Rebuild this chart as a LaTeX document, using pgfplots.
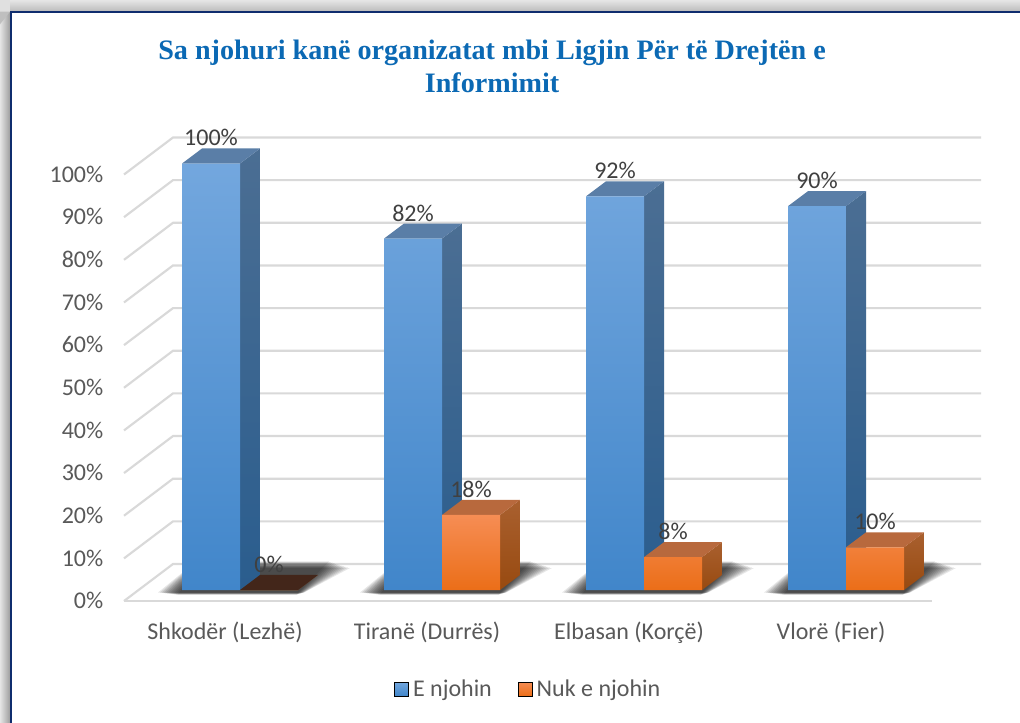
\documentclass[border=0pt]{standalone}
\usepackage{fontspec}
\usepackage{pgfplots}
\pgfplotsset{compat=1.18}
\setmainfont{Carlito}
\newfontfamily\titlefont{Liberation Serif}[BoldFont={Liberation Serif Bold}]
\definecolor{gridc}{HTML}{D9D9D9}
\definecolor{tickc}{HTML}{595959}
\definecolor{labc}{HTML}{404040}
\definecolor{titlec}{HTML}{0B69B4}
\definecolor{bluetop}{HTML}{73A7DE}
\definecolor{bluebot}{HTML}{4186CA}
\definecolor{bluesidet}{HTML}{4B6E93}
\definecolor{bluesideb}{HTML}{2A5D8E}
\definecolor{bluecap}{HTML}{5A7EA7}
\definecolor{ortop}{HTML}{F68D54}
\definecolor{orbot}{HTML}{EB6E18}
\definecolor{orsidet}{HTML}{A9602F}
\definecolor{orsideb}{HTML}{984A10}
\definecolor{orcap}{HTML}{B8693D}
\definecolor{zerocap}{HTML}{43261A}
% pixel helpers: reference pixels to axis units
\newcommand{\pxX}[2]{\pgfmathsetmacro{#1}{(#2-124)/202}}
\newcommand{\pxY}[2]{\pgfmathsetmacro{#1}{(590-#2)/4.265}}
\newcommand{\gridat}[1]{%
  \addplot[forget plot,gridc,line width=1.6pt] coordinates {(0,#1-2.58) (0.2426,#1+6.1) (4.2426,#1+6.1)};}
% one blurred layer of the floor shadow
\newcommand{\shadowlayer}[2]{%
  \pxX{\sa}{#1-24+#2*1.75}\pxX{\sb}{#1+122-#2*0.7}\pxX{\sc}{#1+168-#2*1.9}\pxX{\sd}{#1+6+#2*1.75}%
  \pxY{\se}{592.5-#2*0.2}\pxY{\sf}{568+#2*0.6}%
  \addplot[forget plot,fill=black,draw=none,fill opacity=0.095] coordinates {(\sa,\se) (\sb,\se) (\sc,\sf) (\sd,\sf)};}
\newcommand{\shadowgroup}[1]{\shadowlayer{#1}{0}\shadowlayer{#1}{1}\shadowlayer{#1}{2}\shadowlayer{#1}{3}\shadowlayer{#1}{4}\shadowlayer{#1}{5}\shadowlayer{#1}{6}\shadowlayer{#1}{7}\shadowlayer{#1}{8}\shadowlayer{#1}{9}\shadowlayer{#1}{10}\shadowlayer{#1}{11}}
% side and cap faces of a column: #1 left edge, #2 value
\newcommand{\boxfaces}[5]{%
  \pgfmathsetmacro{\xl}{#1}\pgfmathsetmacro{\xr}{#1+0.2871}%
  \pgfmathsetmacro{\xq}{#1+0.2871+0.099}\pgfmathsetmacro{\xp}{#1+0.099}%
  \pgfmathsetmacro{\yt}{#2+3.52}%
  \addplot[forget plot,draw=none,shade,top color=#3,bottom color=#4] coordinates {(\xr,0) (\xq,3.52) (\xq,\yt) (\xr,#2)};
  \addplot[forget plot,draw=none,fill=#5] coordinates {(\xl,#2) (\xr,#2) (\xq,\yt) (\xp,\yt)};}
\begin{document}
\begin{tikzpicture}
\useasboundingbox (0,0) rectangle (765pt,542.25pt);
\fill[white] (0,0) rectangle (765pt,542.25pt);
\shade[left color=black!10,right color=black!38] (0,0) rectangle (7.5pt,542.25pt);
\shade[top color=black!10,bottom color=black!27] (7.5pt,533.5pt) rectangle (765pt,542.25pt);
\fill[black!12] (0,533.5pt) rectangle (7.5pt,542.25pt);
\fill[black!25] (0,533.5pt) -- (7.5pt,533.5pt) -- (0,524pt) -- cycle;
\draw[color={rgb,255:red,15;green,45;blue,110},line width=1.7pt] (8.3pt,-2pt) -- (8.3pt,533.5pt) -- (767pt,533.5pt);
\begin{axis}[
  width=765pt,height=542.25pt,scale only axis,
  clip=false,
  xmin=-0.6139,xmax=4.4356,ymin=-31.18,ymax=138.34,
  axis line style={draw=none},
  tick style={draw=none},
  major tick length=0pt,
  /pgf/number format/assume math mode=true,
  xtick={0.5,1.5,2.5,3.5},
  xticklabels={Shkodër (Lezhë),Tiranë (Durrës),Elbasan (Korçë),Vlorë (Fier)},
  xticklabel style={font=\fontsize{18}{21}\selectfont,text=tickc,anchor=center,yshift=67pt,
    text height=12pt,text depth=3.5pt},
  ytick={0,10,...,100},
  yticklabel={\pgfmathprintnumber{\tick}\%},
  yticklabel style={font=\fontsize{18}{21}\selectfont,text=tickc,anchor=east,xshift=81pt,yshift=-8pt},
  title={\textbf{Sa njohuri kanë organizatat mbi Ligjin Për të Drejtën e}\\\textbf{Informimit}},
  title style={at={(0.4824,0.8975)},anchor=center,align=center,text=titlec,
    font=\titlefont\fontsize{21.1}{24.75}\selectfont},
  legend style={at={(0.5182,0.0470)},anchor=center,draw=none,fill=none,legend columns=2,
    font=\fontsize{18}{21}\selectfont,text=tickc,
    /tikz/every odd column/.style={column sep=1.2pt},
    /tikz/every even column/.style={column sep=17.5pt}},
  blabel/.style={nodes near coords={\pgfmathprintnumber[fixed,precision=0]{\pgfplotspointmeta}\%},
    every node near coord/.style={font=\fontsize{18}{21}\selectfont,text=labc,anchor=center,yshift=19.2pt}},
]
\addlegendimage{legend image code/.code={\shade[top color=bluetop,bottom color=bluebot] (0pt,-5.25pt) rectangle (10.5pt,5.25pt);}}
\addlegendentry{E njohin}
\addlegendimage{legend image code/.code={\shade[top color=ortop,bottom color=orbot] (0pt,-5.25pt) rectangle (10.5pt,5.25pt);}}
\addlegendentry{Nuk e njohin}
% gridlines
\gridat{0}\gridat{10}\gridat{20}\gridat{30}\gridat{40}\gridat{50}\gridat{60}\gridat{70}\gridat{80}\gridat{90}\gridat{100}
\addplot[forget plot,gridc,line width=1.6pt] coordinates {(0,-2.58) (4,-2.58)};
% floor shadows
\shadowgroup{182}\shadowgroup{384}\shadowgroup{586}\shadowgroup{788}
% blue columns
\boxfaces{0.2871}{100}{bluesidet}{bluesideb}{bluecap}
\boxfaces{1.2871}{82.4}{bluesidet}{bluesideb}{bluecap}
\boxfaces{2.2871}{92.3}{bluesidet}{bluesideb}{bluecap}
\boxfaces{3.2871}{90}{bluesidet}{bluesideb}{bluecap}
\addplot[forget plot,blabel,ybar,bar width=43.5pt,bar shift=0pt,draw=none,top color=bluetop,bottom color=bluebot]
  coordinates {(0.4307,100) (1.4307,82.4) (2.4307,92.3) (3.4307,90)};
% orange columns
\boxfaces{0.5742}{0}{orsidet}{orsideb}{zerocap}
\boxfaces{1.5742}{17.6}{orsidet}{orsideb}{orcap}
\boxfaces{2.5742}{7.7}{orsidet}{orsideb}{orcap}
\boxfaces{3.5742}{10}{orsidet}{orsideb}{orcap}
\addplot[forget plot,blabel,ybar,bar width=43.5pt,bar shift=0pt,draw=none,top color=ortop,bottom color=orbot]
  coordinates {(0.7178,0) (1.7178,17.6) (2.7178,7.7) (3.7178,10)};
\end{axis}
\end{tikzpicture}
\end{document}
